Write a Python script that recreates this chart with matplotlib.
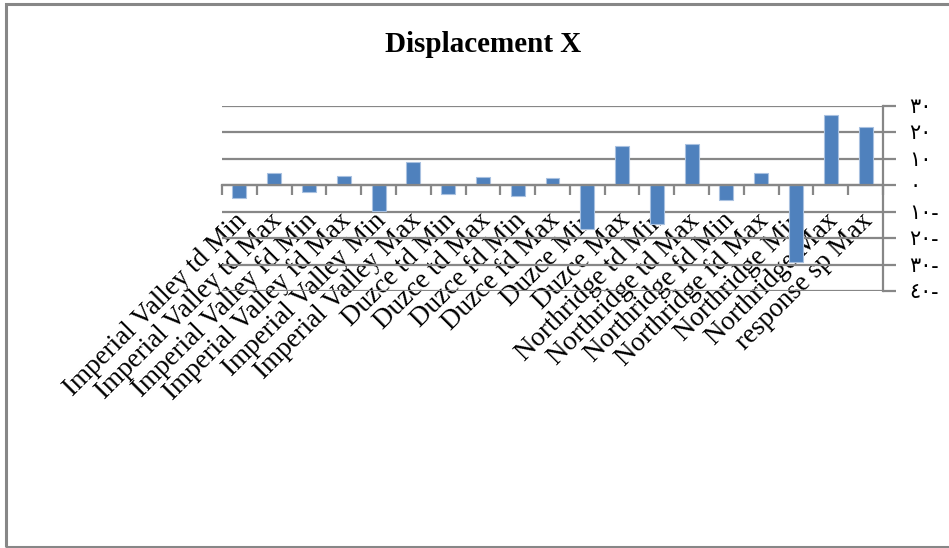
import matplotlib
matplotlib.use("Agg")
import matplotlib.pyplot as plt
from matplotlib.patches import Rectangle
from matplotlib.transforms import ScaledTranslation

categories = [
    "Imperial Valley td Min", "Imperial Valley td Max",
    "Imperial Valley fd Min", "Imperial Valley fd Max",
    "Imperial Valley Min", "Imperial Valley Max",
    "Duzce td Min", "Duzce td Max", "Duzce fd Min", "Duzce fd Max",
    "Duzce Min", "Duzce Max",
    "Northridge td Min", "Northridge td Max",
    "Northridge fd Min", "Northridge fd Max",
    "Northridge Min", "Northridge Max",
    "response sp Max",
]
values = [-4.9, 4.5, -2.4, 3.5, -9.8, 8.8, -3.4, 3.3, -4.0, 2.6,
          -16.4, 14.9, -14.6, 15.8, -5.6, 4.7, -29.0, 26.5, 22.2]

y_ticks = [30, 20, 10, 0, -10, -20, -30, -40]
y_tick_labels = ["٣٠", "٢٠", "١٠", "٠", "١٠-", "٢٠-", "٣٠-", "٤٠-"]

title = "Displacement X"

W, H = 949, 548
fig = plt.figure(figsize=(W / 100, H / 100), dpi=100)
fig.patch.set_facecolor("white")

grey = "#878787"
serif = ["Liberation Serif", "DejaVu Serif"]

# frame around the whole chart
fig.patches.append(Rectangle((6 / W, 1 - 547 / H), 1.0, 543 / H,
                             transform=fig.transFigure, fill=False,
                             edgecolor=grey, lw=2.2))

left, right, top, bottom = 222 / W, 883 / W, 1 - 106 / H, 1 - 291 / H
ax = fig.add_axes([left, bottom, right - left, top - bottom])

x = list(range(len(categories)))
ax.bar(x, values, width=0.4, color="#4F81BD", edgecolor="#A9C1E0",
       linewidth=0.8, zorder=3)

ax.set_xlim(-0.5, len(categories) - 0.5)
ax.set_ylim(-40, 30)

# horizontal grid
ax.set_yticks(y_ticks)
ax.yaxis.grid(True, color=grey, lw=1.6)
ax.set_axisbelow(True)

# value axis on the right
ax.yaxis.tick_right()
ax.set_yticklabels(y_tick_labels, family=["Liberation Serif", "DejaVu Sans"],
                   fontsize=15, ha="left")
ax.tick_params(axis="y", length=9, width=1.6, color=grey, pad=10)

for side in ("left", "top"):
    ax.spines[side].set_visible(False)
ax.spines["right"].set_color(grey)
ax.spines["right"].set_linewidth(1.6)

# category axis along zero
ax.spines["bottom"].set_position(("data", 0))
ax.spines["bottom"].set_color(grey)
ax.spines["bottom"].set_linewidth(1.6)
ax.spines["bottom"].set_zorder(4)
bounds = [i - 0.5 for i in range(len(categories) + 1)]
ax.set_xticks(bounds)
ax.set_xticklabels([])
ax.tick_params(axis="x", which="major", length=7, width=1.6, color=grey,
               direction="out")
ax.set_xticks(x, minor=True)
ax.set_xticklabels(categories, minor=True, rotation=45, ha="right",
                   va="top", rotation_mode="anchor", family=serif,
                   fontsize=19.5)
ax.tick_params(axis="x", which="minor", length=0, pad=15)
shift = ScaledTranslation(-0.05, -0.02, fig.dpi_scale_trans)
for lab in ax.get_xticklabels(minor=True):
    lab.set_transform(lab.get_transform() + shift)

fig.text(483 / W, 1 - 44 / H, title, ha="center", va="center",
         family=serif, fontweight="bold", fontsize=21)

fig.savefig("out.png", dpi=100)
